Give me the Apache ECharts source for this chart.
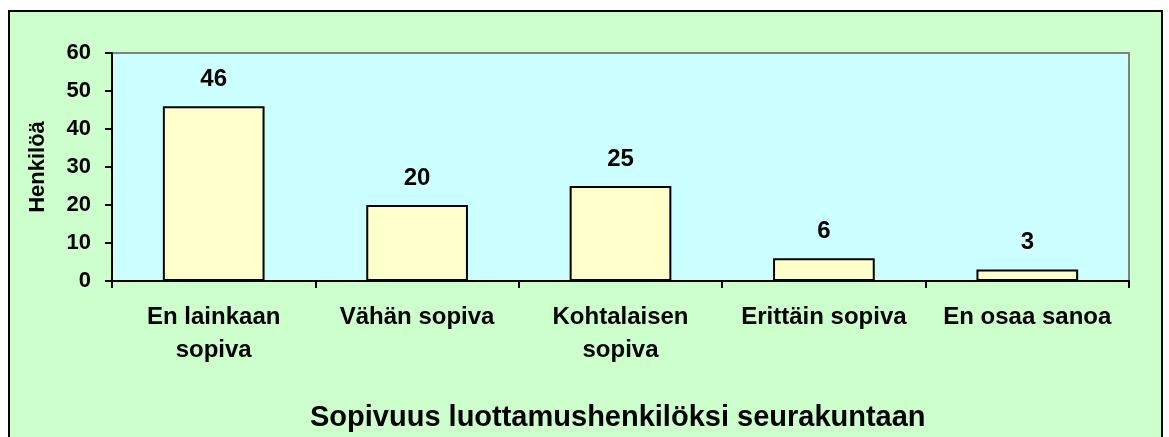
<!DOCTYPE html>
<html>
<head>
<meta charset="utf-8">
<script src="https://cdn.jsdelivr.net/npm/echarts@6/dist/echarts.min.js"></script>
<style>
  html, body { margin: 0; padding: 0; background: #fff; }
  #chart { width: 1169px; height: 437px; }
</style>
</head>
<body>
<div id="chart"></div>
<script>
const categories = ['En lainkaan\nsopiva', 'Vähän sopiva', 'Kohtalaisen\nsopiva', 'Erittäin sopiva', 'En osaa sanoa'];
const values = [46, 20, 25, 6, 3];
const yTicks = { min: 0, max: 60, interval: 10 };

const chart = echarts.init(document.getElementById('chart'));
const font = 'Liberation Sans, Arial, sans-serif';

chart.setOption({
  backgroundColor: '#ffffff',
  animation: false,
  graphic: [{
    type: 'rect',
    z: -10,
    shape: { x: 9, y: 11, width: 1153, height: 440 },
    style: { fill: '#CCFFCC', stroke: '#000', lineWidth: 2 }
  }],
  title: {
    text: 'Sopivuus luottamushenkilöksi seurakuntaan',
    left: 305,
    top: 398,
    textStyle: { fontFamily: font, fontSize: 29, fontWeight: 'bold', color: '#000' }
  },
  grid: {
    left: 112, top: 53, right: 40, bottom: 156,
    show: true,
    backgroundColor: '#CCFFFF',
    borderColor: '#808080',
    borderWidth: 2
  },
  xAxis: {
    type: 'category',
    data: categories,
    axisLine: { lineStyle: { color: '#000', width: 2 } },
    axisTick: { show: true, length: 7, alignWithLabel: false, lineStyle: { color: '#000', width: 2 } },
    axisLabel: {
      interval: 0,
      margin: 20,
      fontFamily: font, fontSize: 24, fontWeight: 'bold', color: '#000',
      lineHeight: 33
    }
  },
  yAxis: {
    type: 'value',
    min: yTicks.min, max: yTicks.max, interval: yTicks.interval,
    name: 'Henkilöä',
    nameLocation: 'middle',
    nameGap: 63,
    nameTextStyle: { fontFamily: font, fontSize: 22, fontWeight: 'bold', color: '#000' },
    axisLine: { show: true, lineStyle: { color: '#000', width: 2 } },
    axisTick: { show: true, length: 7, lineStyle: { color: '#000', width: 2 } },
    splitLine: { show: false },
    axisLabel: { margin: 21, fontFamily: font, fontSize: 22, fontWeight: 'bold', color: '#000' }
  },
  series: [{
    type: 'bar',
    data: values,
    barWidth: '50%',
    itemStyle: { color: '#FFFFCC', borderColor: '#000', borderWidth: 2 },
    label: {
      show: true,
      position: 'top',
      distance: 15,
      fontFamily: font, fontSize: 24, fontWeight: 'bold', color: '#000'
    }
  }]
});
</script>
</body>
</html>
